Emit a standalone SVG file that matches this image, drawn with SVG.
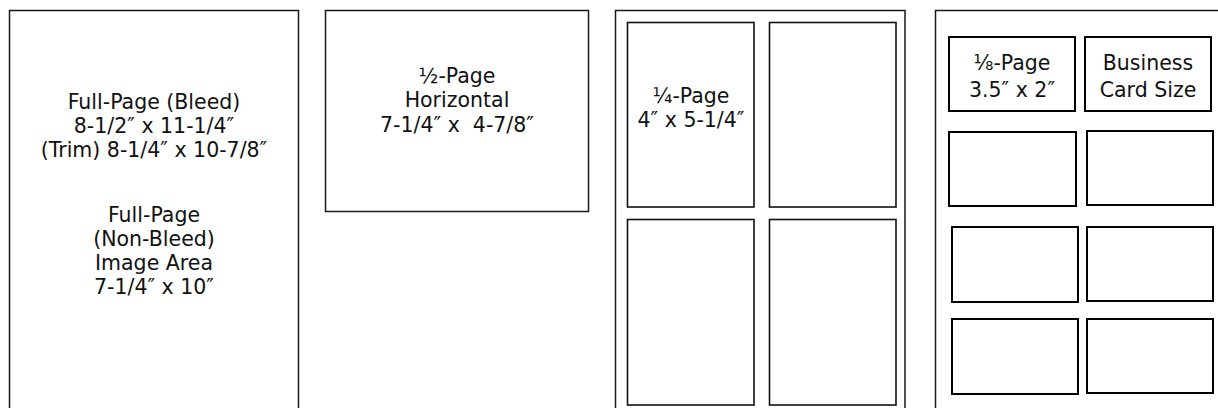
<svg xmlns="http://www.w3.org/2000/svg" width="1218" height="408" viewBox="0 0 1218 408">
<style>
.bg{fill:#ffffff}
.page{fill:#ffffff;stroke:#1a1a1a;stroke-width:1.5}
.inner{fill:#ffffff;stroke:#111111;stroke-width:1.6}
.card{fill:#ffffff;stroke:#000000;stroke-width:2}
.t{font-family:"DejaVu Sans",Tahoma,sans-serif;font-size:20.5px;fill:#111111;text-anchor:middle;white-space:pre}
</style>
<rect class="bg" x="0" y="0" width="1218" height="408"/>
<g id="full-page">
<rect class="page" x="9.5" y="10.5" width="289" height="420"/>
<text class="t" x="154" y="108.5"><tspan x="154">Full-Page (Bleed)</tspan><tspan x="154" dy="24">8-1/2″ x 11-1/4″</tspan><tspan x="154" dy="24">(Trim) 8-1/4″ x 10-7/8″</tspan><tspan x="154" dy="65.5">Full-Page</tspan><tspan x="154" dy="24">(Non-Bleed)</tspan><tspan x="154" dy="24">Image Area</tspan><tspan x="154" dy="24">7-1/4″ x 10″</tspan></text>
</g>
<g id="half-page">
<rect class="page" x="325.5" y="10.5" width="263" height="201"/>
<text class="t" x="457" y="82.5"><tspan x="457">½-Page</tspan><tspan x="457" dy="24.5">Horizontal</tspan><tspan x="457" dy="24.5">7-1/4″ x  4-7/8″</tspan></text>
</g>
<g id="quarter-page">
<rect class="page" x="615.5" y="10.5" width="289.5" height="420"/>
<rect class="inner" x="627.5" y="22.5" width="126.5" height="184.5"/>
<rect class="inner" x="769.5" y="22.5" width="126.5" height="184.5"/>
<rect class="inner" x="627.5" y="219.5" width="126.5" height="185.5"/>
<rect class="inner" x="769.5" y="219.5" width="126.5" height="185.5"/>
<text class="t" x="691" y="102.5"><tspan x="691">¼-Page</tspan><tspan x="691" dy="24">4″ x 5-1/4″</tspan></text>
</g>
<g id="eighth-page">
<rect class="page" x="935.5" y="10.5" width="300" height="420"/>
<rect class="card" x="949" y="37" width="126" height="74"/>
<rect class="card" x="1085" y="37" width="126" height="74"/>
<rect class="card" x="949" y="132" width="127" height="74"/>
<rect class="card" x="1087" y="131" width="126" height="74"/>
<rect class="card" x="952" y="227" width="126" height="75"/>
<rect class="card" x="1087" y="227" width="126" height="74"/>
<rect class="card" x="952" y="319" width="126" height="75"/>
<rect class="card" x="1087" y="319" width="126" height="74"/>
<text class="t" x="1012" y="69.5"><tspan x="1012">⅛-Page</tspan><tspan x="1012" dy="27">3.5″ x 2″</tspan></text>
<text class="t" x="1148" y="69.5"><tspan x="1148">Business</tspan><tspan x="1148" dy="27">Card Size</tspan></text>
</g>
</svg>
